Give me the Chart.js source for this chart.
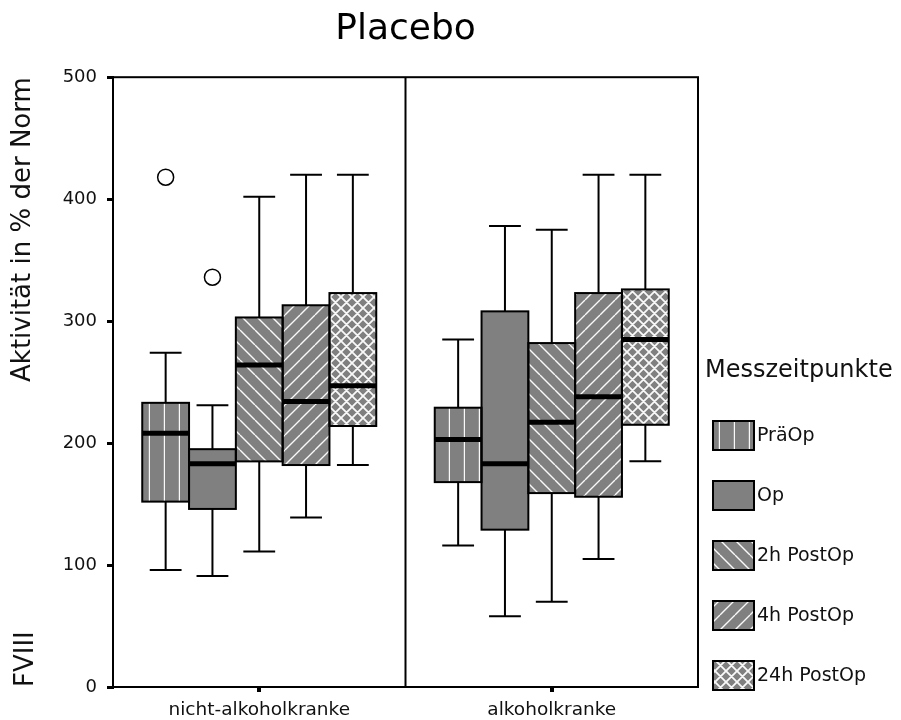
<!DOCTYPE html>
<html>
<head>
<meta charset="utf-8">
<script src="https://cdn.jsdelivr.net/npm/chart.js@4.4.1/dist/chart.umd.min.js"></script>
<style>
  html, body { margin: 0; padding: 0; background: #fff; }
  canvas { display: block; }
</style>
</head>
<body>
<canvas id="chart" width="901" height="720"></canvas>
<script>
// --- Daten ---
const groups = ['nicht-alkoholkranke', 'alkoholkranke'];
const timepoints = ['PräOp', 'Op', '2h PostOp', '4h PostOp', '24h PostOp'];
// je Messzeitpunkt: [nicht-alkoholkranke, alkoholkranke]
const whiskerLow  = [[96, 116], [91, 58], [111, 70], [139, 105], [182, 185]];
const quart1      = [[152, 168], [146, 129], [185, 159], [182, 156], [214, 215]];
const medians     = [[208, 203], [183, 183], [264, 217], [234, 238], [247, 285]];
const quart3      = [[233, 229], [195, 308], [303, 282], [313, 323], [323, 326]];
const whiskerHigh = [[274, 285], [231, 378], [402, 375], [420, 420], [420, 420]];
const outliers    = [[[418], []], [[336], []], [[], []], [[], []], [[], []]];
const yMin = 0, yMax = 500, yStep = 100;
// ---

const FONT = 'DejaVu Sans';
Chart.defaults.font.family = FONT;
Chart.defaults.color = '#111';

// Schraffur-Muster (grau mit weissen Linien)
function makePattern(kind) {
    const p = kind === 'cross' ? 11 : 15;
    const c = document.createElement('canvas');
    c.width = p; c.height = p;
    const g = c.getContext('2d');
    g.fillStyle = '#808080';
    g.fillRect(0, 0, p, p);
    g.strokeStyle = 'rgba(255,255,255,0.95)';
    g.lineWidth = kind === 'cross' ? 1.8 : 1.4;
    g.beginPath();
    if (kind === 'vert') { g.moveTo(14.5, 0); g.lineTo(14.5, p); }
    if (kind === 'back' || kind === 'cross') {
        for (const k of [-p, 0, p]) { g.moveTo(k, 0); g.lineTo(k + p, p); }
    }
    if (kind === 'fwd' || kind === 'cross') {
        for (const k of [-p, 0, p]) { g.moveTo(k, p); g.lineTo(k + p, 0); }
    }
    g.stroke();
    return g.createPattern(c, 'repeat');
}
const fills = [makePattern('vert'), makePattern('plain'), makePattern('back'), makePattern('fwd'), makePattern('cross')];

const boxPlugin = {
    id: 'boxplot',
    beforeDatasetsDraw(chart) {
        // Whisker + Querstriche
        const { ctx, scales: { y } } = chart;
        ctx.save();
        ctx.strokeStyle = '#000';
        ctx.lineWidth = 2;
        chart.data.datasets.forEach((ds, i) => {
            chart.getDatasetMeta(i).data.forEach((bar, j) => {
                const x = bar.x, cap = bar.width * 0.68;
                const lo = y.getPixelForValue(whiskerLow[i][j]);
                const hi = y.getPixelForValue(whiskerHigh[i][j]);
                const b1 = y.getPixelForValue(quart1[i][j]);
                const b3 = y.getPixelForValue(quart3[i][j]);
                ctx.beginPath();
                ctx.moveTo(x, b1); ctx.lineTo(x, lo);
                ctx.moveTo(x - cap / 2, lo); ctx.lineTo(x + cap / 2, lo);
                ctx.moveTo(x, b3); ctx.lineTo(x, hi);
                ctx.moveTo(x - cap / 2, hi); ctx.lineTo(x + cap / 2, hi);
                ctx.stroke();
            });
        });
        ctx.restore();
    },
    afterDatasetsDraw(chart) {
        const { ctx, scales: { y } } = chart;
        ctx.save();
        chart.data.datasets.forEach((ds, i) => {
            chart.getDatasetMeta(i).data.forEach((bar, j) => {
                const top = Math.min(bar.y, bar.base), bot = Math.max(bar.y, bar.base);
                // Rahmen der Box
                ctx.strokeStyle = '#000';
                ctx.lineWidth = 2;
                ctx.strokeRect(bar.x - bar.width / 2, top, bar.width, bot - top);
                // Median
                const m = y.getPixelForValue(medians[i][j]);
                ctx.lineWidth = 5;
                ctx.beginPath();
                ctx.moveTo(bar.x - bar.width / 2, m);
                ctx.lineTo(bar.x + bar.width / 2, m);
                ctx.stroke();
                // Ausreisser
                ctx.lineWidth = 1.5;
                ctx.fillStyle = '#fff';
                outliers[i][j].forEach(v => {
                    ctx.beginPath();
                    ctx.arc(bar.x, y.getPixelForValue(v), 8, 0, Math.PI * 2);
                    ctx.fill();
                    ctx.stroke();
                });
            });
        });
        ctx.restore();
    },
    afterDraw(chart) {
        const { ctx, chartArea: a, scales: { x } } = chart;
        ctx.save();
        // Rahmen + Trennlinie zwischen Gruppen
        ctx.strokeStyle = '#000';
        ctx.lineWidth = 2;
        ctx.strokeRect(a.left, a.top, a.right - a.left, a.bottom - a.top);
        const mid = (x.getPixelForValue(0) + x.getPixelForValue(1)) / 2;
        ctx.beginPath();
        ctx.moveTo(mid, a.top); ctx.lineTo(mid, a.bottom);
        ctx.stroke();
        // kleine Tickmarken unter den Gruppen
        ctx.fillStyle = '#000';
        groups.forEach((g, i) => {
            ctx.fillRect(Math.round(x.getPixelForValue(i)) - 2, a.bottom, 4, 5);
        });

        // FVIII
        ctx.save();
        ctx.translate(33, a.bottom);
        ctx.rotate(-Math.PI / 2);
        ctx.font = `26px "${FONT}"`;
        ctx.fillStyle = '#111';
        ctx.textAlign = 'left';
        ctx.textBaseline = 'alphabetic';
        ctx.fillText('FVIII', 0, 0);
        ctx.restore();

        // Legende
        const lx = 713, ly = 421, step = 60, sw = 41, sh = 29;
        ctx.fillStyle = '#111';
        ctx.font = `24px "${FONT}"`;
        ctx.textAlign = 'left';
        ctx.textBaseline = 'alphabetic';
        ctx.fillText('Messzeitpunkte', 705, 377);
        ctx.font = `19px "${FONT}"`;
        ctx.textBaseline = 'middle';
        chart.data.datasets.forEach((ds, i) => {
            const ty = ly + i * step;
            ctx.fillStyle = ds.backgroundColor;
            ctx.fillRect(lx, ty, sw, sh);
            ctx.strokeStyle = '#000';
            ctx.lineWidth = 2;
            ctx.strokeRect(lx, ty, sw, sh);
            ctx.fillStyle = '#111';
            ctx.fillText(ds.label, lx + sw + 3, ty + sh / 2 + 1);
        });
        ctx.restore();
    }
};

const datasets = timepoints.map((name, i) => ({
    label: name,
    data: groups.map((g, j) => [quart1[i][j], quart3[i][j]]),
    backgroundColor: fills[i],
    borderWidth: 0,
    categoryPercentage: 0.8,
    barPercentage: 1.0
}));

new Chart(document.getElementById('chart'), {
    type: 'bar',
    data: { labels: groups, datasets: datasets },
    options: {
        responsive: false,
        animation: false,
        devicePixelRatio: 1,
        layout: { padding: { left: 0, right: 203, top: 0, bottom: 0 } },
        plugins: {
            legend: { display: false },
            tooltip: { enabled: false },
            title: {
                display: true,
                fullSize: false,
                text: 'Placebo',
                color: '#000',
                font: { size: 36, weight: 'normal' },
                padding: { top: 8, bottom: 26 }
            }
        },
        scales: {
            x: {
                type: 'category',
                offset: true,
                grid: { drawOnChartArea: false, drawTicks: false },
                border: { display: true, color: '#000', width: 2 },
                ticks: { font: { size: 18.5 }, padding: 12, color: '#111' },
                afterFit(scale) { scale.height = 33; }
            },
            y: {
                min: yMin,
                max: yMax,
                ticks: { stepSize: yStep, font: { size: 18 }, padding: 10, color: '#111' },
                grid: { drawOnChartArea: false, drawTicks: true, tickLength: 6, lineWidth: 3, color: '#000' },
                border: { display: true, color: '#000', width: 2 },
                title: {
                    display: true,
                    text: 'Aktivität in % der Norm',
                    align: 'end',
                    color: '#111',
                    font: { size: 26 },
                    padding: { top: 8, bottom: 0 }
                },
                afterFit(scale) { scale.width = 113; }
            }
        }
    },
    plugins: [boxPlugin]
});
</script>
</body>
</html>
